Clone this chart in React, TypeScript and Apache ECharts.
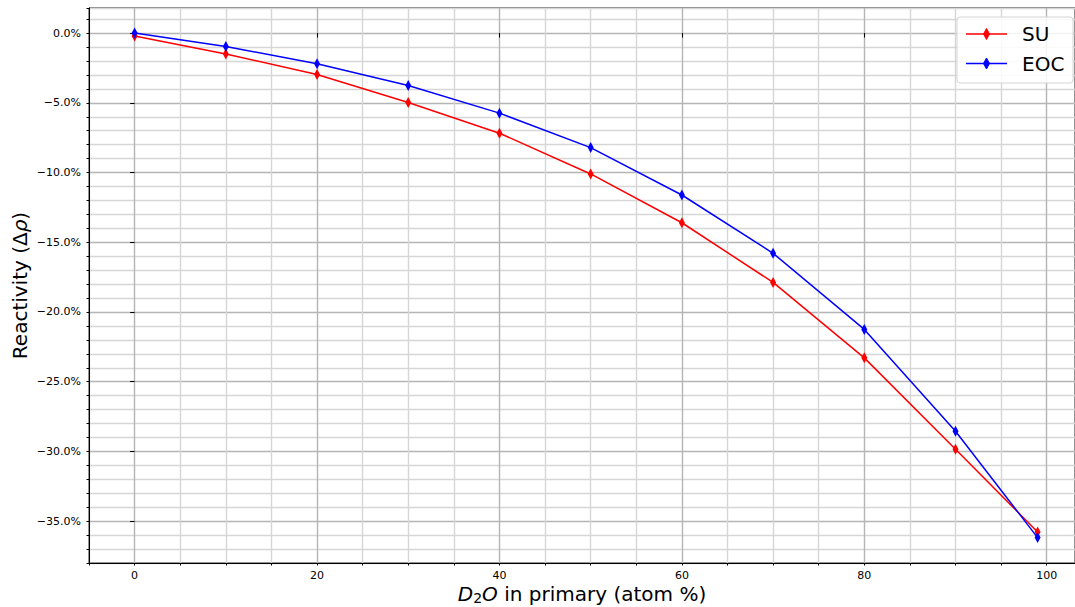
import React, { useEffect, useRef } from "react";
import * as echarts from "echarts";

const xValues = [0, 10, 20, 30, 40, 50, 60, 70, 80, 90, 99];
const suValues = [-0.2, -1.5, -2.97, -4.98, -7.18, -10.1, -13.6, -17.88, -23.29, -29.84, -35.78];
const eocValues = [0.0, -0.96, -2.2, -3.76, -5.74, -8.21, -11.61, -15.79, -21.25, -28.55, -36.18];
const xMajorTicks = [0, 20, 40, 60, 80, 100];
const yMajorTicks = [-35, -30, -25, -20, -15, -10, -5, 0];
const seriesNames = ["SU", "EOC"];
const seriesColors = ["#ff0000", "#0000ff"];

const FONT = "DejaVu Sans";
const MAJOR = "#b5b5b5";
const MINOR = "#d6d6d6";

const isMult = (v: number, m: number) => Math.abs(v / m - Math.round(v / m)) < 1e-6;

export default function App() {
  const ref = useRef<HTMLDivElement>(null);
  useEffect(() => {
    if (!ref.current) return;
    const chart = echarts.init(ref.current, null, { renderer: "svg" });
    const xMin = -5;
    const xMax = 103.1;
    const yMin = -38;
    const yMax = 1.8;
    const mk = (vals: number[]) => xValues.map((x, i) => [x, vals[i]]);
    const legendX = 957;
    const legendY = 17;
    const legendRows = [34, 63.5];
    const graphic: any[] = [
      {
        type: "rect",
        shape: { x: legendX, y: legendY, width: 116, height: 66, r: 3 },
        style: { fill: "rgba(255,255,255,0.85)", stroke: "#d4d4d4", lineWidth: 1 },
        z: 100,
      },
    ];
    seriesNames.forEach((name, i) => {
      const cy = legendRows[i];
      graphic.push({
        type: "line",
        shape: { x1: 966, y1: cy, x2: 1007, y2: cy },
        style: { stroke: seriesColors[i], lineWidth: 1.5 },
        z: 101,
      });
      graphic.push({
        type: "polygon",
        shape: { points: [[986.5, cy - 5.5], [989.5, cy], [986.5, cy + 5.5], [983.5, cy]] },
        style: { fill: seriesColors[i], stroke: seriesColors[i], lineWidth: 1 },
        z: 102,
      });
      graphic.push({
        type: "text",
        x: 1022,
        y: cy,
        style: {
          text: name,
          fontFamily: FONT,
          fontSize: 20,
          fill: "#000",
          verticalAlign: "middle",
          align: "left",
        },
        z: 102,
      });
    });

    chart.setOption({
      animation: false,
      backgroundColor: "#fff",
      grid: {
        left: 89,
        right: 0,
        top: 8,
        bottom: 44,
        containLabel: false,
        outerBoundsMode: "none",
        show: true,
        borderColor: "#000",
        borderWidth: 1,
        backgroundColor: "transparent",
      },
      xAxis: [
        {
          type: "value",
          min: xMin,
          max: xMax,
          interval: 5,
          position: "bottom",
          name: "{i|D}{s|2}{i|O} in primary (atom %)",
          nameLocation: "middle",
          nameGap: 19,
          nameMoveOverlap: false,
          nameTextStyle: {
            fontFamily: FONT,
            fontSize: 20,
            color: "#000",
            rich: {
              i: { fontFamily: FONT, fontSize: 20, fontStyle: "italic", color: "#000" },
              s: { fontFamily: FONT, fontSize: 14, color: "#000", padding: [9, 0, 0, 0] },
            },
          },
          axisLine: { show: true, onZero: false, lineStyle: { color: "#000", width: 1 } },
          axisTick: { show: true, length: 2.5, lineStyle: { color: "#000" } },
          axisLabel: {
            show: true,
            interval: 0,
            margin: 7,
            fontFamily: FONT,
            fontSize: 11,
            color: "#000",
            formatter: (v: number) => (isMult(v, 20) && v >= 0 && v <= 100 ? String(Math.round(v)) : ""),
          },
          splitLine: {
            show: true,
            lineStyle: { color: [MINOR, MAJOR, MINOR, MINOR], width: 1.4 },
          },
        },
        {
          type: "value",
          min: xMin,
          max: xMax,
          position: "bottom",
          axisLine: { show: false },
          axisTick: { show: true, length: 4.5, customValues: xMajorTicks, lineStyle: { color: "#000" } },
          axisLabel: { show: false },
          splitLine: { show: false },
        },
      ],
      yAxis: [
        {
          type: "value",
          min: yMin,
          max: yMax,
          interval: 1,
          position: "left",
          name: "Reactivity (Δ{i|ρ})",
          nameLocation: "middle",
          nameGap: 59,
          nameMoveOverlap: false,
          nameTextStyle: {
            fontFamily: FONT,
            fontSize: 20,
            color: "#000",
            rich: {
              i: { fontFamily: FONT, fontSize: 20, fontStyle: "italic", color: "#000" },
            },
          },
          axisLine: { show: true, onZero: false, lineStyle: { color: "#000", width: 1 } },
          axisTick: { show: true, length: 2.5, lineStyle: { color: "#000" } },
          axisLabel: {
            show: true,
            interval: 0,
            margin: 8,
            fontFamily: FONT,
            fontSize: 11,
            color: "#000",
            formatter: (v: number) =>
              isMult(v, 5) && v <= 0.01 ? (Math.round(v) === 0 ? "0.0%" : "\u2212" + Math.abs(Math.round(v)).toFixed(1) + "%") : "",
          },
          splitLine: {
            show: true,
            lineStyle: { color: [MINOR, MINOR, MINOR, MAJOR, MINOR], width: 1.4 },
          },
        },
        {
          type: "value",
          min: yMin,
          max: yMax,
          position: "left",
          axisLine: { show: false },
          axisTick: { show: true, length: 4.5, customValues: yMajorTicks, lineStyle: { color: "#000" } },
          axisLabel: { show: false },
          splitLine: { show: false },
        },
      ],
      series: [
        {
          name: seriesNames[0],
          type: "line",
          xAxisIndex: 0,
          yAxisIndex: 0,
          data: mk(suValues),
          symbol: "diamond",
          symbolSize: [6, 11],
          showAllSymbol: true,
          lineStyle: { color: seriesColors[0], width: 1.5 },
          itemStyle: { color: seriesColors[0] },
          z: 3,
        },
        {
          name: seriesNames[1],
          type: "line",
          xAxisIndex: 0,
          yAxisIndex: 0,
          data: mk(eocValues),
          symbol: "diamond",
          symbolSize: [6, 11],
          showAllSymbol: true,
          lineStyle: { color: seriesColors[1], width: 1.5 },
          itemStyle: { color: seriesColors[1] },
          z: 4,
        },
      ],
      graphic,
    });
    return () => chart.dispose();
  }, []);
  return <div ref={ref} style={{ width: 1075, height: 607, position: "absolute", left: 0, top: 0 }} />;
}
